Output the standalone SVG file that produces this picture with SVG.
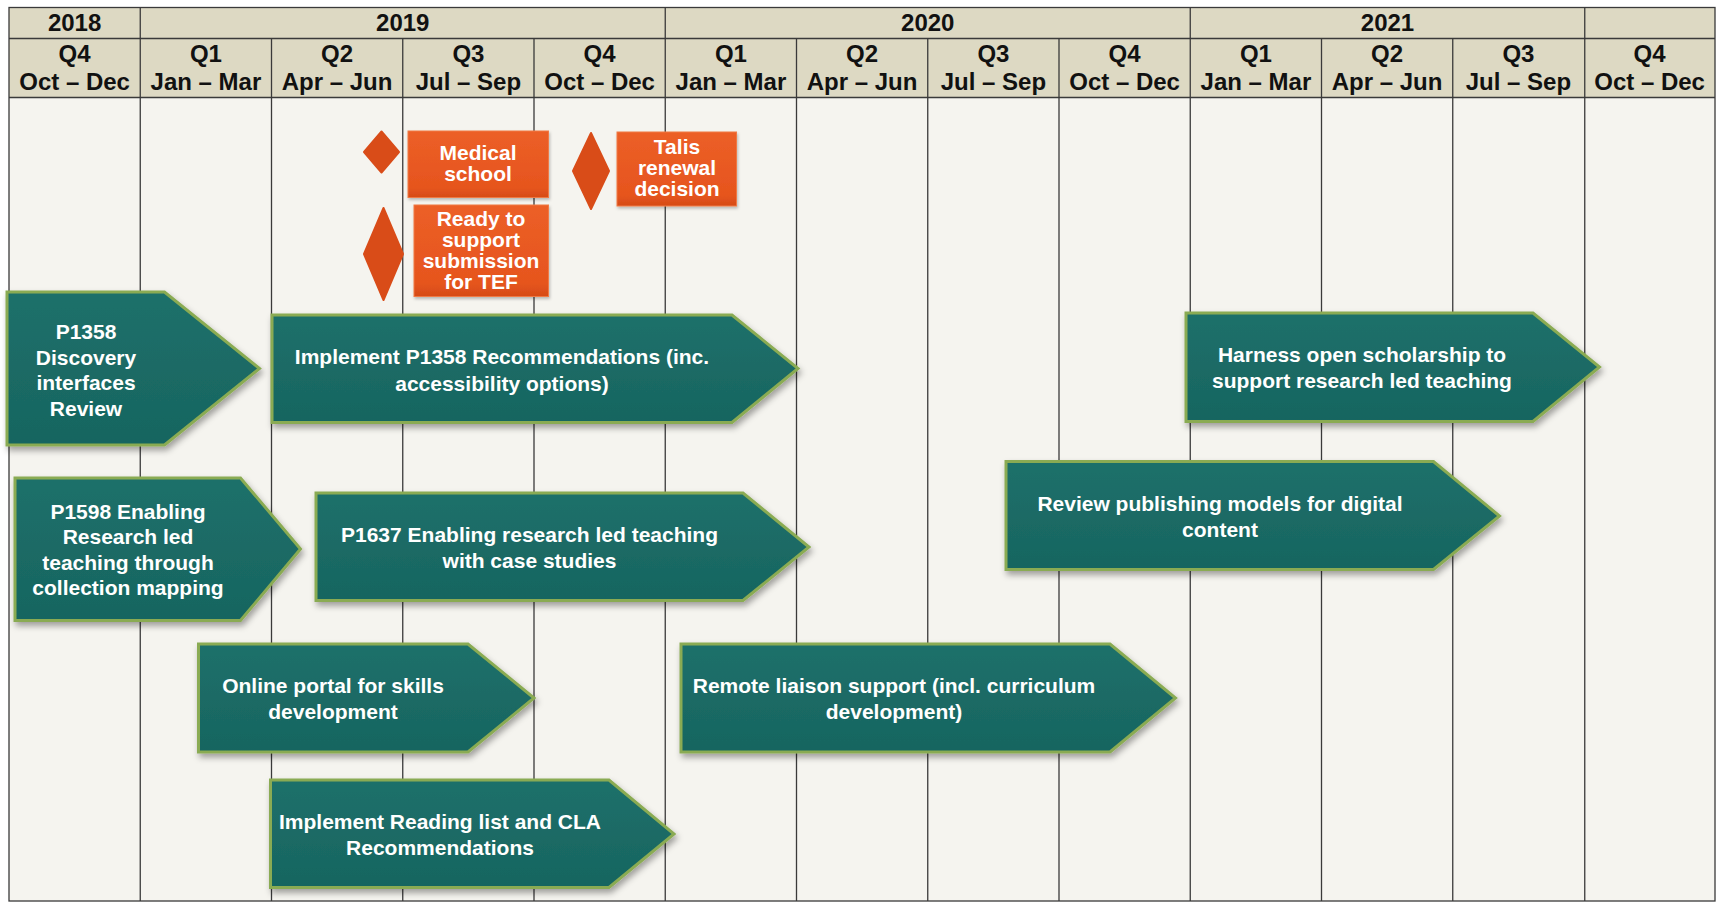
<svg xmlns="http://www.w3.org/2000/svg" width="1719" height="902" viewBox="0 0 1719 902">
<defs>
  <linearGradient id="teal" x1="0" y1="0" x2="0" y2="1">
    <stop offset="0" stop-color="#1e706a"/>
    <stop offset="1" stop-color="#176560"/>
  </linearGradient>
  <linearGradient id="orange" x1="0" y1="0" x2="0" y2="1">
    <stop offset="0" stop-color="#ec5f27"/>
    <stop offset="0.85" stop-color="#e6551e"/>
    <stop offset="1" stop-color="#d64b17"/>
  </linearGradient>
  <filter id="shadow" x="-10%" y="-10%" width="125%" height="135%">
    <feDropShadow dx="2" dy="4" stdDeviation="3" flood-color="#000" flood-opacity="0.35"/>
  </filter>
  <filter id="shadowS" x="-10%" y="-10%" width="125%" height="135%">
    <feDropShadow dx="1" dy="2" stdDeviation="1.5" flood-color="#000" flood-opacity="0.25"/>
  </filter>
</defs>
<style>
  .hdr { fill: #ddd9c3; }
  .body { fill: #f5f4ef; }
  .grid { stroke: #3a3a3a; stroke-width: 1.3; fill: none; }
  .ht { font-family: "Liberation Sans", Arial, sans-serif; font-weight: bold; font-size: 24px; fill: #111; text-anchor: middle; }
  .task path { fill: url(#teal); stroke: #8aab52; stroke-width: 3; stroke-linejoin: miter; filter: url(#shadow); }
  .task text { font-family: "Liberation Sans", Arial, sans-serif; font-weight: bold; font-size: 21px; fill: #fff; text-anchor: middle; }
  .ms rect { fill: url(#orange); stroke: #f07a45; stroke-width: 1; filter: url(#shadowS); }
  .ms path { fill: #d94c18; stroke: #d94c18; stroke-width: 2; stroke-linejoin: round; }
  .ms text { font-family: "Liberation Sans", Arial, sans-serif; font-weight: bold; font-size: 21px; fill: #fff; text-anchor: middle; }
</style>

<g id="timeline">
  <rect class="hdr" x="9" y="7.5" width="1706" height="90"/>
  <rect class="body" x="9" y="97.5" width="1706" height="803.5"/>
  <g class="grid">
    <rect x="9" y="7.5" width="1706" height="893.5"/>
    <line x1="9" y1="38.5" x2="1715" y2="38.5"/>
    <line x1="9" y1="97.5" x2="1715" y2="97.5"/>
    <line x1="140.25" y1="7.5" x2="140.25" y2="901"/>
    <line x1="665.25" y1="7.5" x2="665.25" y2="901"/>
    <line x1="1190.25" y1="7.5" x2="1190.25" y2="901"/>
    <line x1="1584.75" y1="7.5" x2="1584.75" y2="901"/>
    <line x1="271.5" y1="38.5" x2="271.5" y2="901"/>
    <line x1="402.75" y1="38.5" x2="402.75" y2="901"/>
    <line x1="534" y1="38.5" x2="534" y2="901"/>
    <line x1="796.5" y1="38.5" x2="796.5" y2="901"/>
    <line x1="927.75" y1="38.5" x2="927.75" y2="901"/>
    <line x1="1059" y1="38.5" x2="1059" y2="901"/>
    <line x1="1321.5" y1="38.5" x2="1321.5" y2="901"/>
    <line x1="1452.75" y1="38.5" x2="1452.75" y2="901"/>
  </g>
  <g class="ht">
    <text x="74.6" y="31">2018</text>
    <text x="402.75" y="31">2019</text>
    <text x="927.75" y="31">2020</text>
    <text x="1387.5" y="31">2021</text>

    <text x="74.6" y="62">Q4</text><text x="74.6" y="90">Oct – Dec</text>
    <text x="205.9" y="62">Q1</text><text x="205.9" y="90">Jan – Mar</text>
    <text x="337.1" y="62">Q2</text><text x="337.1" y="90">Apr – Jun</text>
    <text x="468.4" y="62">Q3</text><text x="468.4" y="90">Jul – Sep</text>
    <text x="599.6" y="62">Q4</text><text x="599.6" y="90">Oct – Dec</text>
    <text x="730.9" y="62">Q1</text><text x="730.9" y="90">Jan – Mar</text>
    <text x="862.1" y="62">Q2</text><text x="862.1" y="90">Apr – Jun</text>
    <text x="993.4" y="62">Q3</text><text x="993.4" y="90">Jul – Sep</text>
    <text x="1124.6" y="62">Q4</text><text x="1124.6" y="90">Oct – Dec</text>
    <text x="1255.9" y="62">Q1</text><text x="1255.9" y="90">Jan – Mar</text>
    <text x="1387.1" y="62">Q2</text><text x="1387.1" y="90">Apr – Jun</text>
    <text x="1518.4" y="62">Q3</text><text x="1518.4" y="90">Jul – Sep</text>
    <text x="1649.6" y="62">Q4</text><text x="1649.6" y="90">Oct – Dec</text>
  </g>
</g>

<g id="connectors"/>

<g id="ms-medical" class="ms">
  <path d="M381.5,131.5 L399,152 L381.5,172.5 L364,152 Z"/>
  <rect x="408" y="131" width="140.5" height="66.5"/>
  <text x="478" y="160">Medical</text>
  <text x="478" y="181">school</text>
</g>
<g id="ms-tef" class="ms">
  <path d="M383.5,208 L403,254 L383.5,300 L364,254 Z"/>
  <rect x="414" y="205" width="134.5" height="91.5"/>
  <text x="481" y="226">Ready to</text>
  <text x="481" y="247">support</text>
  <text x="481" y="268">submission</text>
  <text x="481" y="289">for TEF</text>
</g>
<g id="ms-talis" class="ms">
  <path d="M591,133 L609,171 L591,209 L573,171 Z"/>
  <rect x="617" y="132" width="119.5" height="74"/>
  <text x="677" y="153.5">Talis</text>
  <text x="677" y="174.5">renewal</text>
  <text x="677" y="195.5">decision</text>
</g>

<g id="task-p1358" class="task">
  <path d="M7,292 L164.5,292 L259.5,368.5 L164.5,445 L7,445 Z"/>
  <text x="86" y="339">P1358</text>
  <text x="86" y="364.5">Discovery</text>
  <text x="86" y="390">interfaces</text>
  <text x="86" y="415.5">Review</text>
</g>
<g id="task-implement-p1358" class="task">
  <path d="M272,315 L732,315 L798,368.5 L732,422.5 L272,422.5 Z"/>
  <text x="502" y="364">Implement P1358 Recommendations (inc.</text>
  <text x="502" y="390.5">accessibility options)</text>
</g>
<g id="task-harness" class="task">
  <path d="M1186,313 L1533,313 L1599.5,367 L1533,421.5 L1186,421.5 Z"/>
  <text x="1362" y="362">Harness open scholarship to</text>
  <text x="1362" y="388">support research led teaching</text>
</g>
<g id="task-p1598" class="task">
  <path d="M15,478 L240.5,478 L300.5,549 L240.5,620.5 L15,620.5 Z"/>
  <text x="128" y="518.5">P1598 Enabling</text>
  <text x="128" y="544">Research led</text>
  <text x="128" y="569.5">teaching through</text>
  <text x="128" y="595">collection mapping</text>
</g>
<g id="task-p1637" class="task">
  <path d="M316,493 L743,493 L809,547 L743,600.5 L316,600.5 Z"/>
  <text x="529.5" y="542">P1637 Enabling research led teaching</text>
  <text x="529.5" y="568">with case studies</text>
</g>
<g id="task-review-publishing" class="task">
  <path d="M1006,461.5 L1433.5,461.5 L1499.5,516 L1433.5,569.5 L1006,569.5 Z"/>
  <text x="1220" y="511">Review publishing models for digital</text>
  <text x="1220" y="537">content</text>
</g>
<g id="task-online-portal" class="task">
  <path d="M198.5,644 L468,644 L534,698 L468,752 L198.5,752 Z"/>
  <text x="333" y="692.5">Online portal for skills</text>
  <text x="333" y="718.5">development</text>
</g>
<g id="task-remote-liaison" class="task">
  <path d="M681,644 L1110,644 L1175.5,698 L1110,752 L681,752 Z"/>
  <text x="894" y="692.5">Remote liaison support (incl. curriculum</text>
  <text x="894" y="718.5">development)</text>
</g>
<g id="task-reading-list" class="task">
  <path d="M270.5,780 L609,780 L674,834 L609,887.5 L270.5,887.5 Z"/>
  <text x="440" y="828.5">Implement Reading list and CLA</text>
  <text x="440" y="854.5">Recommendations</text>
</g>
</svg>
